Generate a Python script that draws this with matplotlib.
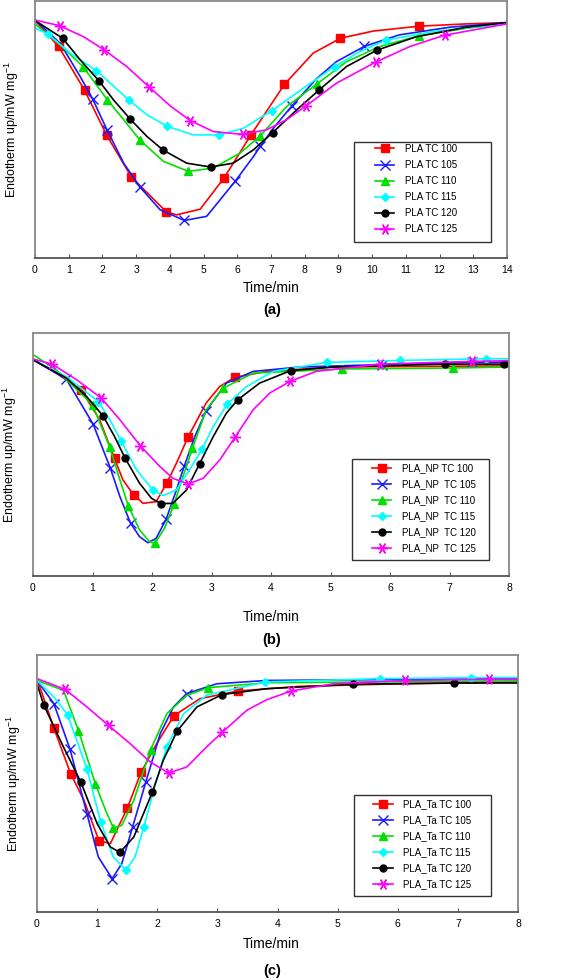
import matplotlib.pyplot as plt
from matplotlib.patches import Rectangle

plt.rcParams['font.family'] = ['Liberation Sans', 'DejaVu Sans']
plt.rcParams['mathtext.fontset'] = 'custom'
plt.rcParams['mathtext.rm'] = 'Liberation Sans'
plt.rcParams['mathtext.it'] = 'Liberation Sans:italic'

# ---------------- panel (a): PLA ----------------
a_labels = ['PLA TC 100', 'PLA TC 105', 'PLA TC 110', 'PLA TC 115', 'PLA TC 120', 'PLA TC 125']
a_ticks = list(range(0, 15))

a_x100 = [0, 0.70, 1.47, 2.13, 2.86, 3.90, 4.2, 4.9, 5.61, 6.40, 7.40, 8.25, 9.06, 10.03, 11.39, 12.8, 14]
a_y100 = [92.4, 82.3, 65.3, 47.7, 31.5, 17.9, 16.8, 19.0, 31.2, 47.8, 67.6, 79.7, 85.5, 88.3, 90.2, 91.1, 91.6]
a_m100 = [1, 2, 3, 4, 5, 8, 9, 10, 12, 14]

a_x105 = [0, 0.75, 1.34, 1.71, 2.13, 2.63, 3.12, 3.71, 4.43, 5.09, 5.94, 6.48, 6.68, 7.07, 7.62, 8.36, 8.94, 9.76, 10.8, 12.3, 14]
a_y105 = [92.6, 83.5, 70.6, 61.9, 50.0, 36.9, 27.5, 18.8, 14.6, 16.2, 29.9, 39.5, 43.4, 50.5, 59.2, 69.9, 76.4, 82.3, 86.8, 89.8, 91.6]
a_m105 = [3, 4, 6, 8, 10, 12, 14, 17]

a_x110 = [0, 0.75, 1.42, 2.15, 2.63, 3.11, 3.81, 4.55, 5.29, 6.08, 6.68, 7.46, 8.36, 9.24, 10.23, 11.38, 12.8, 14]
a_y110 = [91.1, 82.9, 74.5, 61.5, 53.8, 45.9, 37.6, 33.7, 35.0, 40.8, 47.5, 58.9, 67.7, 76.4, 82.3, 86.4, 89.4, 91.1]
a_m110 = [2, 3, 5, 7, 10, 12, 15]

a_x115 = [0, 0.38, 1.05, 1.82, 2.80, 3.32, 3.93, 4.70, 5.47, 6.18, 7.02, 7.96, 8.89, 9.63, 10.42, 11.81, 14]
a_y115 = [89.4, 87.2, 79.7, 72.9, 61.3, 55.7, 51.2, 47.9, 47.9, 50.5, 57.3, 66.1, 74.5, 80.3, 84.8, 88.1, 91.3]
a_m115 = [1, 3, 4, 6, 8, 10, 12, 14]

a_x120 = [0, 0.82, 1.34, 1.90, 2.33, 2.82, 3.32, 3.80, 4.50, 5.21, 5.88, 6.48, 7.05, 7.76, 8.42, 9.24, 10.13, 11.31, 12.79, 14]
a_y120 = [92.4, 85.5, 77.1, 68.9, 61.5, 54.1, 47.3, 42.0, 36.9, 35.4, 36.9, 42.1, 48.8, 57.6, 65.3, 74.5, 80.8, 86.1, 89.8, 91.6]
a_m120 = [1, 3, 5, 7, 9, 12, 14, 16]

a_x125 = [0, 0.73, 1.44, 2.05, 2.72, 3.39, 4.01, 4.60, 5.29, 6.16, 6.87, 7.46, 8.04, 8.94, 10.10, 11.12, 12.15, 14]
a_y125 = [92.6, 90.4, 86.1, 81.0, 74.5, 66.5, 59.2, 53.5, 49.2, 48.1, 49.9, 53.8, 59.2, 68.0, 76.2, 82.3, 86.7, 91.1]
a_m125 = [1, 3, 5, 7, 9, 12, 14, 16]

# ---------------- panel (b): PLA_NP ----------------
b_labels = ['PLA_NP TC 100', 'PLA_NP  TC 105', 'PLA_NP  TC 110', 'PLA_NP  TC 115', 'PLA_NP  TC 120', 'PLA_NP  TC 125']
b_ticks = list(range(0, 9))

b_x100 = [0, 0.39, 0.81, 1.12, 1.37, 1.51, 1.69, 1.85, 2.07, 2.25, 2.41, 2.61, 2.91, 3.14, 3.39, 3.92, 5.04, 8]
b_y100 = [89.0, 83.5, 76.5, 64.3, 48.4, 39.6, 33.4, 29.9, 30.6, 38.3, 46.4, 57.4, 71.2, 78.0, 81.7, 84.2, 86.0, 86.5]
b_m100 = [2, 4, 6, 9, 11, 14]

b_x105 = [0, 0.56, 1.01, 1.30, 1.46, 1.64, 1.79, 1.93, 2.07, 2.24, 2.41, 2.54, 2.72, 2.91, 3.25, 3.70, 4.48, 5.87, 7.38, 8]
b_y105 = [89.0, 81.0, 62.5, 44.4, 32.7, 21.7, 16.2, 13.7, 15.5, 23.5, 35.4, 45.1, 57.4, 68.0, 79.4, 84.2, 86.0, 87.0, 88.0, 88.0]
b_m105 = [1, 2, 3, 5, 9, 11, 13, 17, 18]

b_x110 = [0, 0.39, 1.00, 1.29, 1.46, 1.60, 1.79, 1.96, 2.05, 2.21, 2.37, 2.52, 2.68, 2.91, 3.19, 3.70, 5.19, 7.06, 8]
b_y110 = [91.1, 84.9, 70.5, 53.0, 39.6, 29.0, 19.0, 14.1, 13.5, 19.6, 29.5, 40.9, 52.5, 68.4, 77.2, 83.5, 85.2, 85.6, 86.0]
b_m110 = [2, 3, 5, 8, 10, 12, 14, 16, 17]

b_x115 = [0, 0.56, 1.10, 1.29, 1.48, 1.74, 2.02, 2.19, 2.41, 2.63, 2.84, 3.03, 3.26, 3.59, 4.04, 4.94, 6.16, 7.62, 8]
b_y115 = [89.0, 82.1, 71.8, 64.3, 55.6, 43.7, 35.2, 33.1, 35.4, 43.7, 52.2, 61.5, 70.6, 78.0, 84.2, 87.9, 88.7, 89.4, 89.4]
b_m115 = [2, 4, 6, 10, 12, 15, 16, 17]

b_x120 = [0, 0.56, 0.90, 1.18, 1.37, 1.55, 1.79, 1.99, 2.15, 2.35, 2.58, 2.80, 3.03, 3.25, 3.44, 3.81, 4.33, 5.04, 6.93, 7.91]
b_y120 = [89.0, 81.5, 73.9, 65.8, 57.4, 48.4, 38.2, 32.0, 29.8, 29.9, 35.4, 46.2, 57.4, 67.0, 72.5, 79.4, 84.5, 86.0, 87.2, 87.2]
b_m120 = [3, 5, 8, 11, 14, 16, 18, 19]

b_x125 = [0, 0.32, 0.73, 1.15, 1.46, 1.80, 2.13, 2.35, 2.61, 2.86, 3.14, 3.40, 3.70, 3.98, 4.32, 4.76, 5.83, 7.38, 8]
b_y125 = [89.3, 87.2, 80.8, 73.2, 64.3, 53.7, 45.1, 40.2, 37.9, 40.2, 47.8, 57.3, 68.4, 75.3, 80.1, 84.2, 87.2, 88.3, 88.6]
b_m125 = [1, 3, 5, 8, 11, 14, 16, 17]

# ---------------- panel (c): PLA_Ta ----------------
c_labels = ['PLA_Ta TC 100', 'PLA_Ta TC 105', 'PLA_Ta TC 110', 'PLA_Ta TC 115', 'PLA_Ta TC 120', 'PLA_Ta TC 125']
c_ticks = list(range(0, 9))

c_x100 = [0, 0.28, 0.56, 0.78, 1.03, 1.22, 1.50, 1.73, 1.99, 2.28, 2.71, 3.34, 4.37, 6.04, 8]
c_y100 = [90.8, 71.6, 53.8, 43.5, 27.8, 26.6, 40.3, 54.3, 65.5, 76.4, 83.0, 86.0, 87.8, 88.8, 89.5]
c_m100 = [1, 2, 4, 6, 7, 9, 11]

c_x105 = [0, 0.28, 0.55, 0.83, 1.02, 1.25, 1.41, 1.59, 1.81, 2.05, 2.27, 2.49, 2.99, 3.82, 8]
c_y105 = [90.1, 81.1, 63.3, 38.3, 21.4, 13.0, 18.8, 33.1, 50.6, 69.4, 79.8, 85.0, 88.8, 90.1, 90.8]
c_m105 = [1, 2, 3, 5, 7, 8, 11]

c_x110 = [0, 0.44, 0.69, 0.83, 0.97, 1.14, 1.27, 1.41, 1.61, 1.89, 2.16, 2.49, 2.85, 3.82, 8]
c_y110 = [90.1, 86.3, 70.6, 60.3, 49.9, 39.6, 32.7, 33.7, 43.5, 63.2, 77.2, 84.3, 87.3, 89.2, 89.9]
c_m110 = [2, 4, 6, 9, 12]

c_x115 = [0, 0.28, 0.51, 0.83, 1.06, 1.27, 1.48, 1.63, 1.78, 1.97, 2.16, 2.44, 2.82, 3.79, 5.71, 7.21, 8]
c_y115 = [90.1, 83.7, 76.7, 55.8, 35.0, 21.4, 16.2, 21.4, 33.2, 49.9, 64.3, 77.2, 84.3, 89.5, 90.8, 91.2, 91.2]
c_m115 = [2, 3, 4, 6, 8, 10, 13, 14, 15]

c_x120 = [0, 0.11, 0.44, 0.73, 1.00, 1.22, 1.38, 1.61, 1.92, 2.10, 2.33, 2.66, 3.08, 3.82, 5.25, 6.93, 8]
c_y120 = [88.8, 80.7, 64.2, 50.5, 34.4, 25.3, 23.2, 29.2, 46.7, 59.0, 70.4, 79.8, 84.6, 86.9, 88.6, 89.1, 89.1]
c_m120 = [1, 3, 6, 8, 10, 12, 14, 15]

c_x125 = [0, 0.47, 0.83, 1.19, 1.55, 1.88, 2.19, 2.49, 2.82, 3.08, 3.49, 3.82, 4.23, 4.93, 6.12, 7.51, 8]
c_y125 = [90.8, 86.6, 79.8, 72.6, 65.5, 58.4, 54.1, 56.4, 64.2, 69.9, 78.5, 82.6, 86.0, 88.8, 90.1, 90.5, 90.5]
c_m125 = [1, 3, 6, 9, 12, 14, 15]

colors = ['#ff0000', '#1a1aff', '#00e000', '#00ffff', '#000000', '#ff00ff']
markers = ['s', 'x', '^', 'D', 'o', (6, 2, 90)]
msizes = [5.5, 6.5, 5.5, 4, 5, 8]


def draw(ax, series, labels, ticks, frame, anchor):
    for (x, y, m), lab, c, mk, ms in zip(series, labels, colors, markers, msizes):
        ax.plot(x, y, color=c, lw=1.2, marker=mk, ms=ms, markevery=m, mew=1.0, label=lab)
    ax.set_xlim(ticks[0], ticks[-1])
    ax.set_ylim(0, 100)
    ax.set_xticks(ticks)
    ax.set_yticks([])
    ax.tick_params(axis='x', direction='in', length=3, width=0.8, labelsize=7.5, pad=5, color='#555555')
    for s in ax.spines.values():
        s.set_color('#888888')
        s.set_linewidth(1.3)
    ax.spines['bottom'].set_color('#555555')
    ax.set_ylabel(r'Endotherm up/mW mg$^{-1}$', fontsize=9)
    ax.yaxis.set_label_coords(-0.029, 0.5)
    ax.add_patch(Rectangle(frame[:2], frame[2], frame[3], transform=ax.transAxes,
                           facecolor='white', edgecolor='#333333', lw=1.0, zorder=4))
    ax.legend(loc='upper left', bbox_to_anchor=anchor, frameon=False, fontsize=7,
              borderpad=0, borderaxespad=0, handlelength=2.0, handletextpad=1.1,
              labelspacing=0.62)


fig = plt.figure(figsize=(5.68, 9.80), dpi=100)
W, H = 568, 980


def axes_px(x0, x1, y0, y1):
    return fig.add_axes([x0 / W, 1 - y1 / H, (x1 - x0) / W, (y1 - y0) / H])


ax_a = axes_px(35, 507, 1, 258)
ax_b = axes_px(33, 509, 333, 576)
ax_c = axes_px(37, 518, 655, 912)

draw(ax_a, [(a_x100, a_y100, a_m100), (a_x105, a_y105, a_m105), (a_x110, a_y110, a_m110),
            (a_x115, a_y115, a_m115), (a_x120, a_y120, a_m120), (a_x125, a_y125, a_m125)],
     a_labels, a_ticks, (0.676, 0.062, 0.29, 0.389), (0.72, 0.444))
draw(ax_b, [(b_x100, b_y100, b_m100), (b_x105, b_y105, b_m105), (b_x110, b_y110, b_m110),
            (b_x115, b_y115, b_m115), (b_x120, b_y120, b_m120), (b_x125, b_y125, b_m125)],
     b_labels, b_ticks, (0.670, 0.066, 0.288, 0.415), (0.712, 0.465))
draw(ax_c, [(c_x100, c_y100, c_m100), (c_x105, c_y105, c_m105), (c_x110, c_y110, c_m110),
            (c_x115, c_y115, c_m115), (c_x120, c_y120, c_m120), (c_x125, c_y125, c_m125)],
     c_labels, c_ticks, (0.659, 0.062, 0.285, 0.393), (0.699, 0.44))

# x labels and panel letters
for y_lab, y_let, letter in [(288, 310, '(a)'), (617, 640, '(b)'), (944, 971, '(c)')]:
    fig.text(271 / W, 1 - y_lab / H, 'Time/min', ha='center', va='center', fontsize=10)
    fig.text(272 / W, 1 - y_let / H, letter, ha='center', va='center', fontsize=10.5, fontweight='bold')

fig.savefig('out.png', dpi=100)
